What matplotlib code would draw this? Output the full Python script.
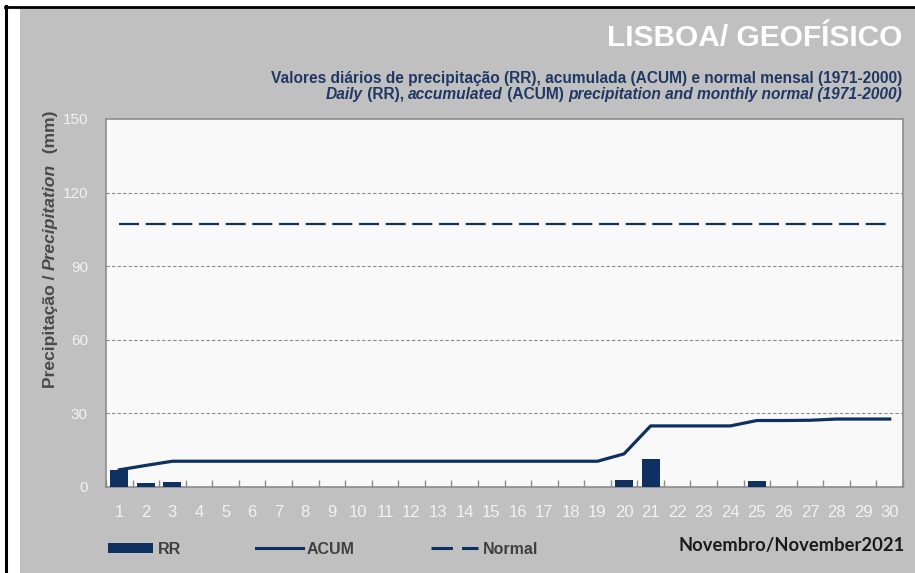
import matplotlib
matplotlib.use("Agg")
import matplotlib.pyplot as plt
from matplotlib.lines import Line2D
from matplotlib.patches import Rectangle
import numpy as np

days = list(range(1, 31))
rr = [6.9, 1.7, 1.9, 0, 0, 0, 0, 0, 0, 0,
      0, 0, 0, 0, 0, 0, 0, 0, 0, 3.0,
      11.4, 0, 0, 0, 2.3, 0, 0, 0, 0, 0]
acum = [7.0, 8.8, 10.5, 10.5, 10.5, 10.5, 10.5, 10.5, 10.5, 10.5,
        10.5, 10.5, 10.5, 10.5, 10.5, 10.5, 10.5, 10.5, 10.5, 13.5,
        24.9, 24.9, 24.9, 24.9, 27.1, 27.1, 27.2, 27.7, 27.7, 27.7]
normal = 107.0
yticks = [0, 30, 60, 90, 120, 150]

W, H = 915, 573
fig = plt.figure(figsize=(W / 100, H / 100), dpi=100)
fig.patch.set_facecolor("white")
renderer = fig.canvas.get_renderer()

def fx(px):
    return px / W

def fy(py):
    return 1 - py / H

def runs_right(x_right, y_base, runs, **kw):
    """Draw text runs [(text, style)] right-aligned ending at x_right (px), baseline y_base (px)."""
    texts = []
    for s, style in runs:
        t = fig.text(0, fy(y_base), s, ha="left", va="baseline", style=style, **kw)
        texts.append(t)
    widths = [t.get_window_extent(renderer).width for t in texts]
    x = x_right - sum(widths)
    for t, w in zip(texts, widths):
        t.set_x(fx(x))
        x += w
    return texts

def runs_vertical(x_base, y_bottom, runs, **kw):
    """Vertical (rotated 90) text runs starting at y_bottom (px) going up, baseline at x_base (px)."""
    texts = []
    for s, style in runs:
        t = fig.text(fx(x_base), 0, s, ha="left", va="baseline", rotation=90,
                     rotation_mode="anchor", style=style, **kw)
        texts.append(t)
    lengths = []
    for t in texts:
        t.set_rotation(0)
        lengths.append(t.get_window_extent(renderer).width)
        t.set_rotation(90)
    y = y_bottom
    for t, h in zip(texts, lengths):
        t.set_y(fy(y))
        y -= h
    return texts

# gray background panel
fig.add_artist(Rectangle((fx(20), 0), 1 - fx(20), fy(8), transform=fig.transFigure,
                         facecolor="#c0c0c0", edgecolor="none", zorder=0))
# black border lines
fig.add_artist(Line2D([fx(6), fx(6)], [0, fy(6)], transform=fig.transFigure, color="black", lw=2.2))
fig.add_artist(Line2D([fx(5), 1], [fy(6.5), fy(6.5)], transform=fig.transFigure, color="black", lw=2.0))

navy = "#0f3161"
ax = fig.add_axes([fx(106), fy(487), fx(903) - fx(106), fy(119) - fy(487)])
ax.set_facecolor("#f9f9f9")

ax.bar(days, rr, width=0.68, color=navy, zorder=3)
ax.plot(days, acum, color=navy, lw=2.3, zorder=4, solid_joinstyle="round")
ax.plot([days[0], days[-1]], [normal, normal], color=navy, lw=1.6, dashes=(9.0, 3.0), zorder=4)

ax.set_xlim(0.5, 30.5)
ax.set_ylim(0, 150)
ax.set_yticks(yticks)
for y in yticks[1:-1]:
    ax.axhline(y, color="#8a8a8a", lw=0.8, ls=(0, (3, 2)), zorder=1)

ax.set_xticks(days)
ax.set_xticks(np.arange(0.5, 31, 1), minor=True)
ax.tick_params(axis="x", which="major", length=0, pad=13, labelsize=12, labelcolor="#f2f2f2")
ax.tick_params(axis="x", which="minor", direction="in", length=5, color="#8a8a8a", width=1)
ax.tick_params(axis="y", length=0, pad=13, labelsize=11, labelcolor="#f2f2f2")
for lab in ax.get_xticklabels() + ax.get_yticklabels():
    lab.set_fontfamily("Liberation Sans")

for s in ax.spines.values():
    s.set_color("#8c8c8c")
    s.set_linewidth(1.2)

# y label (mixed styles)
runs_vertical(55, 388, [("Precipitação / ", "normal"), ("Precipitation", "italic"), ("  (mm)", "normal")],
              fontsize=12.6, fontweight="bold", color="#4a4a4a", family="Liberation Sans")

# titles
fig.text(fx(902), fy(46), "LISBOA/ GEOFÍSICO", ha="right", va="baseline", fontsize=21.5,
         fontweight="bold", color="white", family="Liberation Sans")
sub = "#1f3864"
runs_right(902, 83, [("Valores diários de precipitação (RR), acumulada (ACUM) e normal mensal (1971-2000)", "normal")],
           fontsize=11.2, fontweight="bold", color=sub, family="Liberation Sans")
runs_right(902, 99, [("Daily", "italic"), (" (RR), ", "normal"), ("accumulated", "italic"),
                     (" (ACUM) ", "normal"),
                     ("precipitation and monthly normal (1971-2000)", "italic")],
           fontsize=11.2, fontweight="bold", color=sub, family="Liberation Sans")

# legend
ly = 548
fig.add_artist(Rectangle((fx(108), fy(553)), fx(153) - fx(108), fy(543) - fy(553),
                         transform=fig.transFigure, facecolor=navy, edgecolor="none"))
fig.text(fx(158), fy(ly + 1), "RR", ha="left", va="center", fontsize=11.5, fontweight="bold",
         color="#404040", family="Liberation Sans")
fig.add_artist(Line2D([fx(256), fx(303)], [fy(ly), fy(ly)], transform=fig.transFigure, color=navy, lw=2.2))
fig.text(fx(307), fy(ly + 1), "ACUM", ha="left", va="center", fontsize=11.5, fontweight="bold",
         color="#404040", family="Liberation Sans")
fig.add_artist(Line2D([fx(431), fx(478)], [fy(ly), fy(ly)], transform=fig.transFigure, color=navy, lw=2.2,
                      dashes=(7, 3)))
fig.text(fx(483), fy(ly + 1), "Normal", ha="left", va="center", fontsize=11.5, fontweight="bold",
         color="#404040", family="Liberation Sans")
fig.text(fx(905), fy(546), "Novembro/November2021", ha="right", va="center", fontsize=13.2,
         fontweight="bold", color="#1a1a1a", family=["Lato", "Liberation Sans"])

fig.savefig("out.png", dpi=100, facecolor=fig.get_facecolor())
